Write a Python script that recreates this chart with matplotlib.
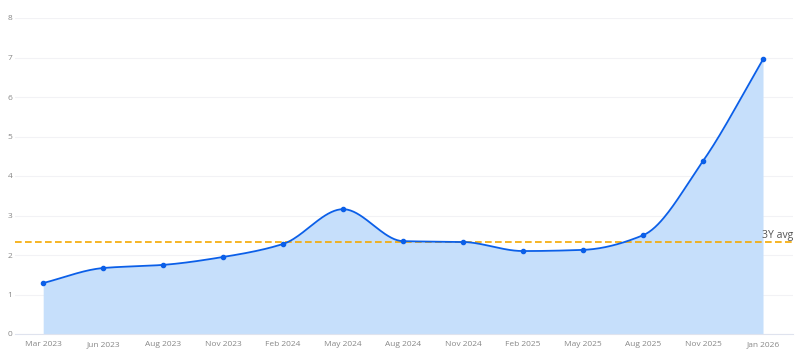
import numpy as np
import matplotlib.pyplot as plt

labels = ["Mar 2023", "Jun 2023", "Aug 2023", "Nov 2023", "Feb 2024", "May 2024",
          "Aug 2024", "Nov 2024", "Feb 2025", "May 2025", "Aug 2025", "Nov 2025",
          "Jan 2026"]
values = [1.29, 1.67, 1.75, 1.95, 2.28, 3.16, 2.35, 2.33, 2.10, 2.13, 2.50, 4.38, 6.95]
avg_3y = 2.33


def monotone_curve(x, y, n=40):
    # Fritsch-Carlson monotone cubic, just for drawing the smooth line
    x = np.asarray(x, float)
    y = np.asarray(y, float)
    h = np.diff(x)
    d = np.diff(y) / h
    m = np.zeros_like(y)
    m[0], m[-1] = d[0], d[-1]
    for i in range(1, len(y) - 1):
        if d[i - 1] * d[i] <= 0:
            m[i] = 0
        else:
            m[i] = 2 / (1 / d[i - 1] + 1 / d[i])
    xs, ys = [], []
    for i in range(len(h)):
        t = np.linspace(0, 1, n, endpoint=False)
        h00 = 2 * t**3 - 3 * t**2 + 1
        h10 = t**3 - 2 * t**2 + t
        h01 = -2 * t**3 + 3 * t**2
        h11 = t**3 - t**2
        xs.append(x[i] + t * h[i])
        ys.append(h00 * y[i] + h10 * h[i] * m[i] + h01 * y[i + 1] + h11 * h[i] * m[i + 1])
    xs.append([x[-1]])
    ys.append([y[-1]])
    return np.concatenate(xs), np.concatenate(ys)


plt.rcParams["font.family"] = ["Open Sans", "DejaVu Sans"]

fig = plt.figure(figsize=(8, 3.53), dpi=100)
ax = fig.add_axes([15 / 800, 19 / 353, 778 / 800, 316 / 353])

idx = np.arange(len(values))
cx, cy = monotone_curve(idx, values)

ax.fill_between(cx, 0, cy, color="#c6dffb", linewidth=0, zorder=1)
ax.plot(cx, cy, color="#0b5fe8", linewidth=1.3, zorder=3)
ax.scatter(idx, values, s=9, color="#0b5fe8", zorder=4)

ax.axhline(avg_3y, color="#f5a800", linestyle=(0, (4, 2)), linewidth=1.2, zorder=2)
ax.text(12.5, avg_3y + 0.03, "3Y avg", ha="right", va="bottom", fontsize=7.5,
        color="#555555")

ax.set_xlim(-0.47, 12.5)
ax.set_ylim(0, 8)
ax.set_xticks(idx)
ax.set_xticklabels(labels)
ax.set_yticks(range(0, 9))

ax.grid(axis="y", color="#f2f2f5", linewidth=0.8)
ax.set_axisbelow(True)
for side in ["top", "right", "left"]:
    ax.spines[side].set_visible(False)
ax.spines["bottom"].set_color("#dfe3ee")
ax.tick_params(axis="both", length=0, labelsize=6, colors="#888888")
ax.tick_params(axis="x", pad=5)
ax.tick_params(axis="y", pad=2)

plt.savefig("out.png", dpi=100)
